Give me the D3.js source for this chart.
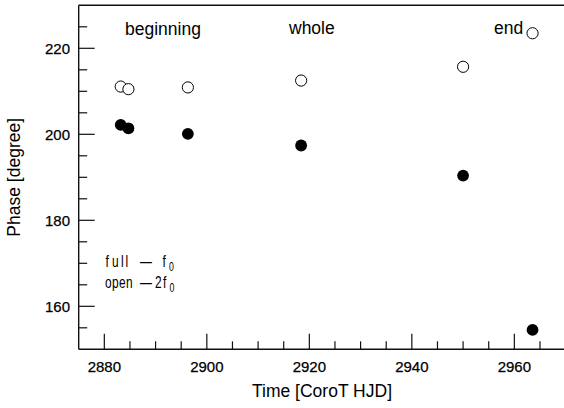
<!DOCTYPE html>
<html>
<head>
<meta charset="utf-8">
<script src="https://cdn.jsdelivr.net/npm/d3@7"></script>
<style>
  html, body { margin: 0; padding: 0; background: #fff; }
  svg { display: block; }
  text { font-family: "Liberation Sans", Arial, Helvetica, sans-serif; fill: #000; }
</style>
</head>
<body>
<script>
// Observation times (CoroT HJD) and pulsation phases in degrees
const times    = [2883.2, 2884.7, 2896.3, 2918.4, 2950.0, 2963.55];
const phaseF0  = [202.2, 201.4, 200.1, 197.4, 190.4, 154.5];   // full circles, f0
const phase2F0 = [211.1, 210.5, 210.9, 212.5, 215.7, 223.5];   // open circles, 2f0

const xTicks = [2880, 2900, 2920, 2940, 2960];
const yTicks = [160, 180, 200, 220];
const segmentLabels = ["beginning", "whole", "end"];

const W = 564, H = 408;
const svg = d3.select("body").append("svg").attr("width", W).attr("height", H);

const x = d3.scaleLinear().domain([2875, 2970]).range([78.7, 565.6]);
const y = d3.scaleLinear().domain([150, 230]).range([349.3, 5.3]);

const x0 = x.range()[0], x1 = x.range()[1];
const y0 = y.range()[0], y1 = y.range()[1];

// frame: left, bottom and top lines
const frame = svg.append("g").attr("stroke", "#111").attr("stroke-width", 1.4).attr("fill", "none");
frame.append("line").attr("x1", x0).attr("x2", x0).attr("y1", y1).attr("y2", y0);
frame.append("line").attr("x1", x0).attr("x2", x1).attr("y1", y0).attr("y2", y0);
frame.append("line").attr("x1", x0).attr("x2", x1).attr("y1", y1).attr("y2", y1);

// inward ticks: majors every 20, minors every 5
const xMinor = d3.range(2880, 2970, 5).filter(v => !xTicks.includes(v));
const yMinor = d3.range(155, 230, 5).filter(v => !yTicks.includes(v));

const ticks = svg.append("g").attr("stroke", "#111").attr("stroke-width", 1.2);
ticks.selectAll(".xmaj").data(xTicks).join("line")
  .attr("x1", d => x(d)).attr("x2", d => x(d)).attr("y1", y0).attr("y2", y0 - 15.5);
ticks.selectAll(".xmin").data(xMinor).join("line")
  .attr("x1", d => x(d)).attr("x2", d => x(d)).attr("y1", y0).attr("y2", y0 - 8);
ticks.selectAll(".ymaj").data(yTicks).join("line")
  .attr("x1", x0).attr("x2", x0 + 16).attr("y1", d => y(d)).attr("y2", d => y(d));
ticks.selectAll(".ymin").data(yMinor).join("line")
  .attr("x1", x0).attr("x2", x0 + 8.5).attr("y1", d => y(d)).attr("y2", d => y(d));

// tick labels
svg.append("g").selectAll("text").data(xTicks).join("text")
  .attr("x", d => x(d)).attr("y", 372)
  .attr("text-anchor", "middle").attr("font-size", 15).attr("stroke", "#000").attr("stroke-width", 0.25)
  .text(d => d);
svg.append("g").selectAll("text").data(yTicks).join("text")
  .attr("x", 70).attr("y", d => y(d)).attr("dy", "0.36em")
  .attr("text-anchor", "end").attr("font-size", 15).attr("stroke", "#000").attr("stroke-width", 0.25)
  .text(d => d);

// axis titles
svg.append("text").attr("x", 322).attr("y", 397)
  .attr("text-anchor", "middle").attr("font-size", 17.5).text("Time [CoroT HJD]");
svg.append("text")
  .attr("transform", `translate(19.5,${(y0 + y1) / 2}) rotate(-90)`)
  .attr("text-anchor", "middle").attr("font-size", 17.5).text("Phase [degree]");

// segment labels
const segPos = [[125, 35], [289, 34], [494, 34]];
svg.append("g").selectAll("text").data(segmentLabels).join("text")
  .attr("x", (d, i) => segPos[i][0]).attr("y", (d, i) => segPos[i][1])
  .attr("font-size", 17.5).text(d => d);

// data points
const pts = times.map((t, i) => ({ t, f0: phaseF0[i], f2: phase2F0[i] }));
svg.append("g").selectAll("circle").data(pts).join("circle")
  .attr("cx", d => x(d.t)).attr("cy", d => y(d.f2)).attr("r", 5.6)
  .attr("fill", "#fff").attr("stroke", "#000").attr("stroke-width", 1);
svg.append("g").selectAll("circle").data(pts).join("circle")
  .attr("cx", d => x(d.t)).attr("cy", d => y(d.f0)).attr("r", 5.9)
  .attr("fill", "#000");

// legend: condensed, evenly spaced lettering placed glyph by glyph
const sx = 0.7;
const lx = v => (v / sx).toFixed(1);
const xs = arr => arr.map(lx).join(" ");
const leg = svg.append("g").attr("transform", `scale(${sx},1)`).attr("font-size", 17);

const l1 = leg.append("text").attr("y", 267);
l1.append("tspan").attr("x", xs([105.5, 112, 121, 125.5])).text("full");
l1.append("tspan").attr("x", lx(140)).text("\u2014");
l1.append("tspan").attr("x", lx(162.5)).text("f");
l1.append("tspan").attr("x", lx(169)).attr("font-size", 12.5).attr("dy", 4).text("0");

const l2 = leg.append("text").attr("y", 288);
l2.append("tspan").attr("x", xs([105, 112, 119, 126])).text("open");
l2.append("tspan").attr("x", lx(140)).text("\u2014");
l2.append("tspan").attr("x", xs([155, 163])).text("2f");
l2.append("tspan").attr("x", lx(169.5)).attr("font-size", 12.5).attr("dy", 4).text("0");
</script>
</body>
</html>
